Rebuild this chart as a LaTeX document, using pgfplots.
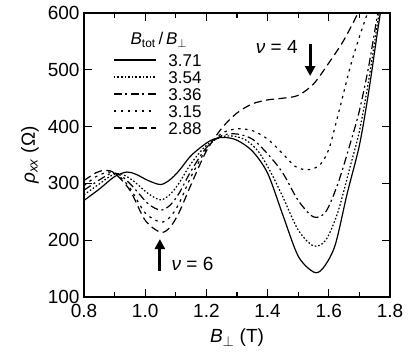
\documentclass[border=0pt]{standalone}
\usepackage{fontspec}
\setmainfont{Liberation Sans}
\usepackage{pgfplots}
\pgfplotsset{compat=1.18}
\usetikzlibrary{arrows.meta}

\begin{document}
\begin{tikzpicture}
\begin{axis}[
    at={(0pt,0pt)}, anchor=south west,
    scale only axis, width=306pt, height=284pt,
    xmin=0.8, xmax=1.8, ymin=100, ymax=600,
    xtick={0.8,1.0,1.2,1.4,1.6,1.8}, minor x tick num=1,
    ytick={100,200,300,400,500,600},
    major tick length=8pt, minor tick length=5pt,
    tick align=inside,
    axis line style={line width=1.1pt},
    every tick/.style={line width=1.1pt, black},
    tick label style={font=\fontsize{19}{19}\selectfont},
    /pgf/number format/assume math mode=true,
    x tick label style={yshift=-4pt, /pgf/number format/.cd, fixed, fixed zerofill, precision=1},
    y tick label style={xshift=-1pt},
    label style={font=\fontsize{19}{19}\selectfont},
    xlabel={\textit{B}$_\perp$ (T)},
    xlabel style={yshift=-4pt},
    ylabel={\textit{ρ}\textsubscript{\textit{xx}} (Ω)},
    ylabel style={yshift=2pt},
    legend style={draw=none, fill=none, at={(rel axis cs:0.0948,0.856)}, anchor=north west,
        font=\fontsize{17}{17}\selectfont, row sep=5pt, inner sep=0pt,
        nodes={inner sep=0pt, text height=12pt, text depth=0pt},
        /tikz/every odd column/.append style={column sep=12pt},
        cells={anchor=west}},
    legend image code/.code={\draw[#1] (0pt,0pt) -- (42pt,0pt);},
    every axis plot/.append style={line width=1.2pt, black},
]
% 3.71
\addplot[smooth] coordinates {
(0.80,270) (0.85,290) (0.90,312) (0.94,320) (0.97,316) (1.01,305) (1.05,298)
(1.08,306) (1.11,322) (1.15,349) (1.20,371) (1.23,379) (1.26,381) (1.30,376)
(1.35,357) (1.40,318) (1.45,244) (1.50,172) (1.55,144) (1.58,150) (1.62,190)
(1.66,282) (1.70,367) (1.73,460) (1.76,570) (1.78,640)};
\addlegendentry{3.71}
% 3.54
\addplot[smooth, dash pattern=on 1.6pt off 2pt] coordinates {
(0.80,280) (0.85,299) (0.89,314) (0.92,317) (0.96,305) (1.01,282) (1.05,271)
(1.08,280) (1.11,300) (1.15,335) (1.20,367) (1.25,382) (1.29,383) (1.33,376)
(1.37,356) (1.41,320) (1.45,276) (1.50,218) (1.55,190) (1.59,200) (1.63,250)
(1.67,330) (1.70,392) (1.73,480) (1.76,585) (1.78,650)};
\addlegendentry{3.54}
% 3.36
\addplot[smooth, dash pattern=on 8pt off 3.5pt on 2pt off 3.5pt] coordinates {
(0.80,288) (0.85,306) (0.89,318) (0.92,314) (0.96,294) (1.01,264) (1.05,253)
(1.08,261) (1.11,282) (1.15,322) (1.20,363) (1.25,384) (1.30,387) (1.35,378)
(1.40,352) (1.45,318) (1.50,270) (1.55,241) (1.59,250) (1.63,300) (1.67,370)
(1.70,428) (1.73,505) (1.76,600) (1.78,660)};
\addlegendentry{3.36}
% 3.15
\addplot[smooth, dash pattern=on 2.5pt off 4.5pt] coordinates {
(0.80,296) (0.84,312) (0.88,320) (0.91,315) (0.95,292) (1.00,248) (1.05,232)
(1.08,240) (1.11,264) (1.15,312) (1.20,360) (1.25,388) (1.30,396) (1.35,393)
(1.40,378) (1.45,352) (1.49,330) (1.53,324) (1.57,332) (1.60,360) (1.63,420)
(1.67,505) (1.70,558) (1.73,605) (1.76,650)};
\addlegendentry{3.15}
% 2.88
\addplot[smooth, dash pattern=on 8pt off 4.5pt] coordinates {
(0.80,305) (0.84,319) (0.87,323) (0.90,318) (0.95,288) (1.00,235) (1.05,214)
(1.08,222) (1.11,248) (1.15,298) (1.20,357) (1.25,397) (1.30,424) (1.35,440)
(1.40,447) (1.45,450) (1.50,455) (1.55,475) (1.60,512) (1.65,553) (1.70,605)
(1.73,640)};
\addlegendentry{2.88}

\node[font=\fontsize{17}{17}\selectfont] at (rel axis cs:0.245,0.905)
    {\textit{B}\textsubscript{tot}\,/\,\textit{B}$_\perp$};
\node[font=\fontsize{19}{19}\selectfont] at (axis cs:1.43,540) {\textit{ν} = 4};
\draw[line width=3pt, -{Triangle[width=10pt,length=10pt]}] (axis cs:1.539,545) -- (axis cs:1.539,489);
\node[font=\fontsize{19}{19}\selectfont, anchor=west] at (axis cs:1.075,158) {\textit{ν} = 6};
\draw[line width=3pt, -{Triangle[width=10pt,length=10pt]}] (axis cs:1.048,146) -- (axis cs:1.048,202);
\end{axis}
\pgfresetboundingbox
\useasboundingbox (-84pt,-62pt) rectangle (324pt,297pt);
\end{tikzpicture}
\end{document}
